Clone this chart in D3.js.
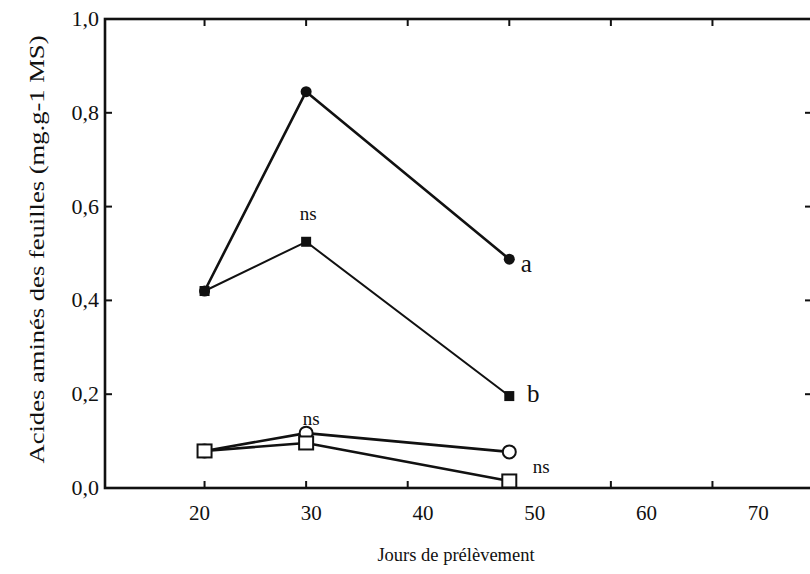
<!DOCTYPE html>
<html>
<head>
<meta charset="utf-8">
<script src="https://cdn.jsdelivr.net/npm/d3@7/dist/d3.min.js"></script>
<style>
  html, body { margin: 0; padding: 0; background: #fff; }
  svg { display: block; }
  text { font-family: "Liberation Serif", "DejaVu Serif", serif; fill: #111; }
</style>
</head>
<body>
<svg id="chart" width="810" height="574"></svg>
<script>
// Sampling days (x) and leaf amino-acid content (mg.g-1 MS)
const days = [20, 30, 50];
const filledCircle = [0.42, 0.845, 0.488];   // series "a"
const filledSquare = [0.42, 0.525, 0.196];   // series "b"
const openCircle   = [0.079, 0.117, 0.077];
const openSquare   = [0.079, 0.096, 0.015];

const xTicks = [20, 30, 40, 50, 60, 70];
const yTicks = [0, 0.2, 0.4, 0.6, 0.8, 1.0];

const svg = d3.select("#chart");
const frame = { left: 105, right: 812, top: 19, bottom: 488 };

const x = d3.scaleLinear().domain([10.2, 79.8]).range([frame.left, frame.right]);
const y = d3.scaleLinear().domain([0, 1]).range([frame.bottom, frame.top]);

// tick labels are printed on a slightly wider spacing than the tick marks
const labelX = d => x(20) - 5 + (x(d) - x(20)) * 1.1;

const fmt = v => d3.format(".1f")(v).replace(".", ",");

// frame
svg.append("rect")
  .attr("x", frame.left).attr("y", frame.top)
  .attr("width", frame.right - frame.left).attr("height", frame.bottom - frame.top)
  .attr("fill", "none").attr("stroke", "#111").attr("stroke-width", 2.6);

// inward tick marks on all four sides
const tickLen = 7;
const g = svg.append("g").attr("stroke", "#111").attr("stroke-width", 2);
xTicks.forEach(t => {
  g.append("line").attr("x1", x(t)).attr("x2", x(t))
    .attr("y1", frame.bottom).attr("y2", frame.bottom - tickLen);
  g.append("line").attr("x1", x(t)).attr("x2", x(t))
    .attr("y1", frame.top).attr("y2", frame.top + tickLen);
});
yTicks.filter(t => t > 0 && t < 1).forEach(t => {
  g.append("line").attr("x1", frame.left).attr("x2", frame.left + tickLen)
    .attr("y1", y(t)).attr("y2", y(t));
  g.append("line").attr("x1", frame.right).attr("x2", frame.right - tickLen)
    .attr("y1", y(t)).attr("y2", y(t));
});

// tick labels
svg.append("g").selectAll("text").data(xTicks).join("text")
  .attr("x", d => labelX(d)).attr("y", 520)
  .attr("text-anchor", "middle").attr("font-size", 21)
  .text(d => d);
svg.append("g").selectAll("text").data(yTicks).join("text")
  .attr("x", frame.left - 6).attr("y", d => y(d) + 7)
  .attr("text-anchor", "end").attr("font-size", 22)
  .text(fmt);

// axis titles
svg.append("text")
  .attr("x", 456).attr("y", 561)
  .attr("text-anchor", "middle").attr("font-size", 18.5)
  .text("Jours de prélèvement");
svg.append("text")
  .attr("transform", `translate(44, ${(frame.top + frame.bottom) / 2 - 4}) rotate(-90)`)
  .attr("text-anchor", "middle").attr("font-size", 21)
  .attr("textLength", 428).attr("lengthAdjust", "spacingAndGlyphs")
  .text("Acides aminés des feuilles (mg.g-1 MS)");

// series lines
const line = vals => d3.line()
  .x((d, i) => x(days[i]))
  .y(d => y(d))(vals);

const series = [
  { vals: filledSquare, width: 2.0 },
  { vals: filledCircle, width: 2.6 },
  { vals: openSquare, width: 2.6 },
  { vals: openCircle, width: 2.6 }
];
series.forEach(s => {
  svg.append("path").attr("d", line(s.vals))
    .attr("fill", "none").attr("stroke", "#111")
    .attr("stroke-width", s.width).attr("stroke-linejoin", "round");
});

// markers
const pts = vals => vals.map((v, i) => ({ cx: x(days[i]), cy: y(v) }));

svg.append("g").selectAll("rect").data(pts(filledSquare)).join("rect")
  .attr("x", d => d.cx - 5).attr("y", d => d.cy - 5)
  .attr("width", 10).attr("height", 10).attr("fill", "#111");
svg.append("g").selectAll("circle").data(pts(filledCircle)).join("circle")
  .attr("cx", d => d.cx).attr("cy", d => d.cy).attr("r", 5.5).attr("fill", "#111");
svg.append("g").selectAll("circle").data(pts(openCircle)).join("circle")
  .attr("cx", d => d.cx).attr("cy", d => d.cy).attr("r", 6.5)
  .attr("fill", "#fff").attr("stroke", "#111").attr("stroke-width", 2);
svg.append("g").selectAll("rect").data(pts(openSquare)).join("rect")
  .attr("x", d => d.cx - 7).attr("y", d => d.cy - 6.5)
  .attr("width", 14).attr("height", 13)
  .attr("fill", "#fff").attr("stroke", "#111").attr("stroke-width", 2);

// significance annotations
const notes = [
  { day: 30, v: 0.571, t: "ns", size: 19, dx: 2 },
  { day: 30, v: 0.134, t: "ns", size: 19, dx: 5 },
  { day: 50, v: 0.032, t: "ns", size: 19, dx: 32 },
  { day: 50, v: 0.46, t: "a", size: 25, dx: 17 },
  { day: 50, v: 0.183, t: "b", size: 25, dx: 24 }
];
svg.append("g").selectAll("text").data(notes).join("text")
  .attr("x", d => x(d.day) + d.dx).attr("y", d => y(d.v))
  .attr("text-anchor", "middle")
  .attr("font-size", d => d.size)
  .text(d => d.t);
</script>
</body>
</html>
